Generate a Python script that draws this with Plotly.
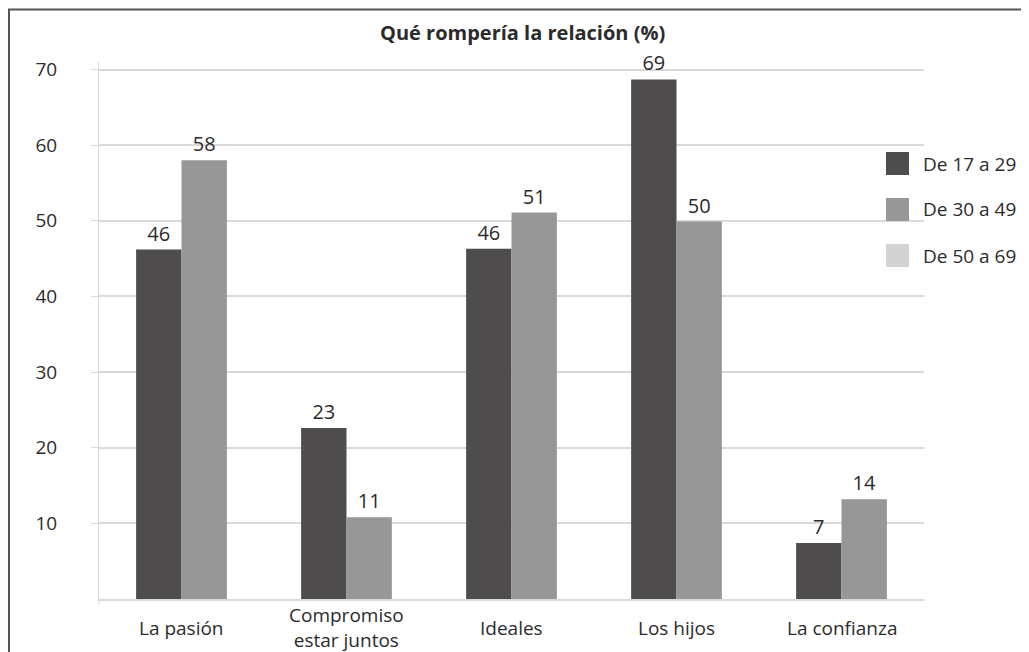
import plotly.graph_objects as go

# Podaci
categories = ["La pasión", "Compromiso<br>estar juntos", "Ideales", "Los hijos", "La confianza"]
series_names = ["De 17 a 29", "De 30 a 49", "De 50 a 69"]
values_17_29 = [46.2, 22.6, 46.3, 68.7, 7.4]
values_30_49 = [58.0, 10.8, 51.1, 49.9, 13.2]
labels_17_29 = ["46", "23", "46", "69", "7"]
labels_30_49 = ["58", "11", "51", "50", "14"]
y_ticks = [10, 20, 30, 40, 50, 60, 70]

colors = ["#4e4c4d", "#979797", "#d3d3d3"]
font_family = "Open Sans, Lato, sans-serif"
text_color = "#2b2b2b"

# Stranica ima 8px margine, pa figuru pomjeramo
OFF = 8
W, H = 1029, 652
PL, PR, PT, PB = 99, 924, 62, 599  # okvir grafika u pikselima prozora


def px(x):
    return (x - PL) / (PR - PL)


def py(y):
    return (PB - y) / (PB - PT)


fig = go.Figure()

for name, vals, txt, col in [
    (series_names[0], values_17_29, labels_17_29, colors[0]),
    (series_names[1], values_30_49, labels_30_49, colors[1]),
]:
    fig.add_trace(go.Bar(
        x=categories,
        y=vals,
        name=name,
        marker=dict(color=col, line=dict(width=0)),
        text=txt,
        textposition="outside",
        textfont=dict(size=20, color=text_color, family=font_family),
        cliponaxis=False,
        showlegend=False,
    ))

# Rucna legenda (veliki kvadrati)
shapes = []
annotations = []
for i, (name, col) in enumerate(zip(series_names, colors)):
    y_top = 152 + i * 46
    shapes.append(dict(
        type="rect", xref="paper", yref="paper",
        x0=px(886), x1=px(909), y0=py(y_top + 23), y1=py(y_top),
        fillcolor=col, line=dict(width=0),
    ))
    annotations.append(dict(
        text=name, xref="paper", yref="paper",
        x=px(921), y=py(y_top + 11.5),
        xanchor="left", yanchor="middle", showarrow=False,
        font=dict(size=19, color=text_color, family=font_family),
    ))

# Nazivi kategorija (vertikalno centrirani)
for cat in categories:
    annotations.append(dict(
        text=cat, x=cat, xref="x", yref="paper", y=py(628),
        xanchor="center", yanchor="middle", showarrow=False,
        font=dict(size=19, color=text_color, family=font_family),
    ))

# Naslov
annotations.append(dict(
    text="<b>Qué rompería la relación (%)</b>", xref="paper", yref="paper",
    x=px(522), y=py(33), xanchor="center", yanchor="middle",
    showarrow=False, font=dict(size=20, color=text_color, family=font_family),
))

# Okvir
shapes.append(dict(
    type="path", xref="paper", yref="paper",
    path="M %f %f L %f %f L %f %f" % (
        px(9), py(700), px(9), py(9.5), px(1100), py(9.5)),
    line=dict(color="#555555", width=2),
))
# Produzetak y ose ispod x ose
shapes.append(dict(
    type="line", xref="paper", yref="paper",
    x0=0, x1=0, y0=py(605), y1=0,
    line=dict(color="#d9d9d9", width=1),
))

fig.update_layout(
    width=W,
    height=H,
    barmode="group",
    bargap=0.45,
    bargroupgap=0,
    plot_bgcolor="white",
    paper_bgcolor="white",
    margin=dict(l=PL - OFF, r=W - (PR - OFF), t=PT - OFF, b=H - (PB - OFF)),
    font=dict(family=font_family, size=19, color=text_color),
    shapes=shapes,
    annotations=annotations,
    showlegend=False,
)

fig.update_xaxes(
    showticklabels=False,
    showline=True, linecolor="#d9d9d9", linewidth=1.5,
    showgrid=False, ticks="",
)
fig.update_yaxes(
    range=[0, 71],
    tickvals=y_ticks,
    ticktext=[str(v) for v in y_ticks],
    showgrid=True, gridcolor="#d9d9d9", gridwidth=1.5,
    showline=True, linecolor="#d9d9d9", linewidth=1,
    ticks="outside", ticklen=7, tickcolor="#d9d9d9",
    tickfont=dict(size=19, color=text_color),
    ticklabelstandoff=30,
    zeroline=False,
)

fig.write_html("out.html")
